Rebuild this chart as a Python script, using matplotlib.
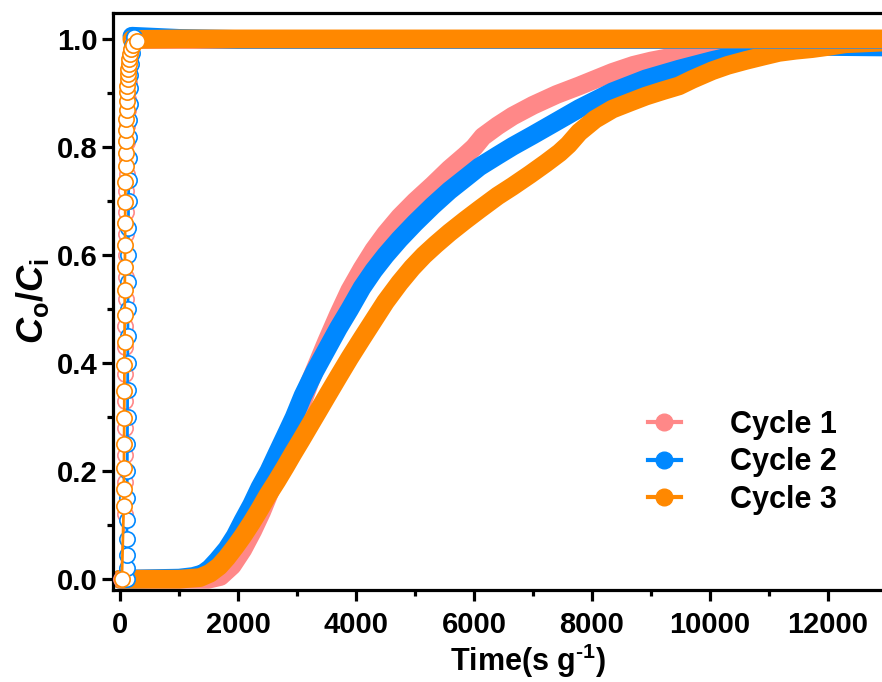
import matplotlib
matplotlib.use("Agg")
import matplotlib.pyplot as plt
from matplotlib.lines import Line2D
from matplotlib.legend_handler import HandlerTuple
from matplotlib.path import Path
from matplotlib.ticker import MultipleLocator, FormatStrFormatter

plt.rcParams['font.family'] = ['Liberation Sans', 'DejaVu Sans']
plt.rcParams['font.weight'] = 'bold'
plt.rcParams['mathtext.fontset'] = 'custom'
plt.rcParams['mathtext.rm'] = 'Liberation Sans:bold'
plt.rcParams['mathtext.it'] = 'Liberation Sans:bold:italic'
plt.rcParams['mathtext.bf'] = 'Liberation Sans:bold'

# ---------------- data ----------------
labels = ["Cycle 1", "Cycle 2", "Cycle 3"]
colors = ["#FF8888", "#0088FF", "#FF8800"]

# slow breakthrough curves (dense filled markers -> thick band)
c1_x = [0, 1000, 1500, 1700, 1900, 2081, 2250, 2400, 2550, 2700, 2850, 3000, 3215, 3500,
        3700, 3892, 4100, 4300, 4500, 4738, 5000, 5300, 5584, 5850, 6000, 6150, 6400, 6655,
        7000, 7400, 7783, 8347, 8700, 9000, 9475, 10039, 10603, 11168, 11800]
c1_y = [0.0, 0.0, 0.0, 0.005, 0.025, 0.055, 0.09, 0.125, 0.165, 0.205, 0.25, 0.30, 0.365,
        0.44, 0.49, 0.535, 0.575, 0.61, 0.64, 0.671, 0.70, 0.73, 0.76, 0.785, 0.80, 0.82,
        0.84, 0.858, 0.878, 0.898, 0.914, 0.939, 0.952, 0.96, 0.970, 0.979, 0.988, 0.994,
        0.998]

c2_x = [0, 1000, 1235, 1400, 1523, 1650, 1810, 1950, 2081, 2230, 2369, 2520, 2657, 2800,
        2950, 3100, 3300, 3500, 3700, 3892, 4100, 4300, 4500, 4738, 5000, 5300, 5584, 5850,
        6091, 6400, 6655, 7000, 7400, 7783, 8347, 8912, 9475, 10039, 10603, 11168, 12000,
        13000, 14000]
c2_y = [0.0, 0.002, 0.005, 0.01, 0.02, 0.035, 0.056, 0.08, 0.108, 0.138, 0.17, 0.2, 0.232,
        0.265, 0.3, 0.34, 0.385, 0.425, 0.465, 0.5, 0.54, 0.572, 0.6, 0.63, 0.66, 0.692,
        0.72, 0.743, 0.764, 0.785, 0.802, 0.823, 0.848, 0.872, 0.903, 0.927, 0.945, 0.961,
        0.975, 0.984, 0.987, 0.986, 0.985]

c3_x = [0, 1000, 1354, 1523, 1680, 1810, 1950, 2081, 2230, 2369, 2500, 2657, 2800, 2927,
        3070, 3215, 3350, 3500, 3700, 3892, 4100, 4300, 4500, 4738, 4950, 5150, 5350, 5584,
        5850, 6091, 6400, 6655, 6950, 7219, 7450, 7600, 7783, 8050, 8347, 8650, 8912, 9200,
        9475, 9701, 10039, 10300, 10603, 10900, 11168, 11450, 11730, 12000, 12296, 12900,
        14000]
c3_y = [0.0, 0.0, 0.003, 0.011, 0.024, 0.04, 0.06, 0.08, 0.105, 0.13, 0.155, 0.182, 0.208,
        0.232, 0.258, 0.285, 0.31, 0.338, 0.375, 0.41, 0.446, 0.48, 0.514, 0.549, 0.577,
        0.60, 0.62, 0.642, 0.665, 0.685, 0.71, 0.728, 0.75, 0.771, 0.79, 0.805, 0.828,
        0.852, 0.871, 0.884, 0.895, 0.905, 0.914, 0.926, 0.942, 0.952, 0.961, 0.969, 0.976,
        0.98, 0.983, 0.987, 0.992, 0.995, 0.997]

# fast curves (open markers on the rise)
f1_x = [20, 75, 78, 80, 82, 84, 86, 88, 90, 92, 95, 98, 101, 104, 108, 112, 116, 120, 125,
        130, 136, 143, 152, 165, 185, 215]
f1_y = [0.0, 0.12, 0.18, 0.23, 0.28, 0.33, 0.38, 0.43, 0.47, 0.52, 0.56, 0.60, 0.64, 0.68,
        0.72, 0.75, 0.78, 0.81, 0.84, 0.87, 0.89, 0.92, 0.94, 0.96, 0.98, 0.995]
f2_x = [110, 112, 114, 116, 118, 120, 122, 124, 126, 128, 130, 132, 134, 136, 138, 141,
        144, 147, 150, 154, 158, 163, 168, 175, 183, 195, 210, 235]
f2_y = [0.0, 0.02, 0.045, 0.075, 0.11, 0.15, 0.20, 0.25, 0.30, 0.35, 0.40, 0.45, 0.50, 0.55,
        0.60, 0.65, 0.70, 0.74, 0.78, 0.82, 0.85, 0.88, 0.91, 0.935, 0.955, 0.975, 0.99, 1.005]
f3_x = [30, 62, 64, 66, 68, 70, 72, 74, 76, 78, 80, 82, 84, 86, 88, 90, 93, 96, 99, 102,
        106, 110, 114, 118, 122, 127, 132, 138, 145, 155, 170, 190, 220, 280]
f3_y = [0.0, 0.136, 0.167, 0.206, 0.251, 0.299, 0.349, 0.396, 0.439, 0.489, 0.536, 0.579,
        0.62, 0.66, 0.698, 0.735, 0.765, 0.79, 0.811, 0.833, 0.852, 0.87, 0.886, 0.902,
        0.914, 0.926, 0.936, 0.945, 0.954, 0.963, 0.973, 0.983, 0.99, 0.997]

# plateau of the fast curves
p_x = [200, 1000, 2000, 4000, 6000, 8000, 10000, 12000, 14000]
p1_y = [1.0, 1.0, 1.0, 1.0, 1.0, 1.0, 1.0, 1.0, 1.0]
p2_y = [1.006, 1.002, 1.0, 1.0, 1.0, 1.0, 1.0, 1.0, 1.0]
p3_y = [1.0, 1.001, 1.001, 1.001, 1.001, 1.001, 1.001, 1.001, 1.001]

slow = [(c1_x, c1_y), (c2_x, c2_y), (c3_x, c3_y)]
fast = [(f1_x, f1_y), (f2_x, f2_y), (f3_x, f3_y)]
plat = [p1_y, p2_y, p3_y]

# ---------------- figure ----------------
fig = plt.figure(figsize=(8.82, 6.82), dpi=100)
ax = fig.add_axes([113 / 882, 92 / 682, 830 / 882, 577 / 682])

band_lw = 13.5
for (x, y), c in zip(slow, colors):
    ax.plot(x, y, color=c, lw=band_lw, solid_capstyle='round', solid_joinstyle='round',
            zorder=2)
for (x, y), py, c in zip(fast, plat, colors):
    ax.plot(p_x, py, color=c, lw=band_lw, solid_capstyle='round', zorder=3)
    ax.plot(x, y, color=c, lw=2, marker='o', markersize=11, markerfacecolor='white',
            markeredgecolor=c, markeredgewidth=1.2, zorder=4)

ax.set_xlim(-120, 13950)
ax.set_ylim(-0.02, 1.049)
ax.xaxis.set_major_locator(MultipleLocator(2000))
ax.xaxis.set_minor_locator(MultipleLocator(1000))
ax.yaxis.set_major_locator(MultipleLocator(0.2))
ax.yaxis.set_minor_locator(MultipleLocator(0.1))
ax.yaxis.set_major_formatter(FormatStrFormatter('%.1f'))

for s in ax.spines.values():
    s.set_linewidth(2.3)
ax.tick_params(which='major', direction='out', length=8, width=2.3, labelsize=21)
ax.tick_params(which='minor', direction='out', length=4, width=2.3)
ax.tick_params(axis='x', which='major', pad=7)
ax.tick_params(axis='y', which='major', pad=3)

ax.set_xlabel('Time(s g$^{\u2010\\mathregular{1}}$)', fontsize=22, fontweight='bold',
              labelpad=2)
ax.set_ylabel(r'$C_{\mathrm{o}}/C_{\mathrm{i}}$', fontsize=26, labelpad=4)

# legend with highlighted "sphere" markers
hl = Path.make_compound_path(
    Path([(-1, -1), (1, 1)], [Path.MOVETO, Path.MOVETO]),
    Path.circle(center=(-0.25, 0.3), radius=0.3))
handles = []
for c in colors:
    h1 = Line2D([], [], color=c, lw=3, marker='o', markersize=12, markeredgecolor=c)
    h2 = Line2D([], [], linestyle='none', marker=hl, markersize=12,
                markerfacecolor='white', markeredgecolor='none', alpha=0.65)
    handles.append((h1, h2))
ax.legend(handles, labels, handler_map={tuple: HandlerTuple(ndivide=None)},
          loc='upper left', bbox_to_anchor=(648 / 882, 1 - 410 / 682),
          bbox_transform=fig.transFigure, frameon=False,
          handlelength=2.15, handletextpad=0.55, labelspacing=0.24, borderpad=0,
          borderaxespad=0, prop={'weight': 'bold', 'size': 22})

fig.savefig("out.png", dpi=100)
